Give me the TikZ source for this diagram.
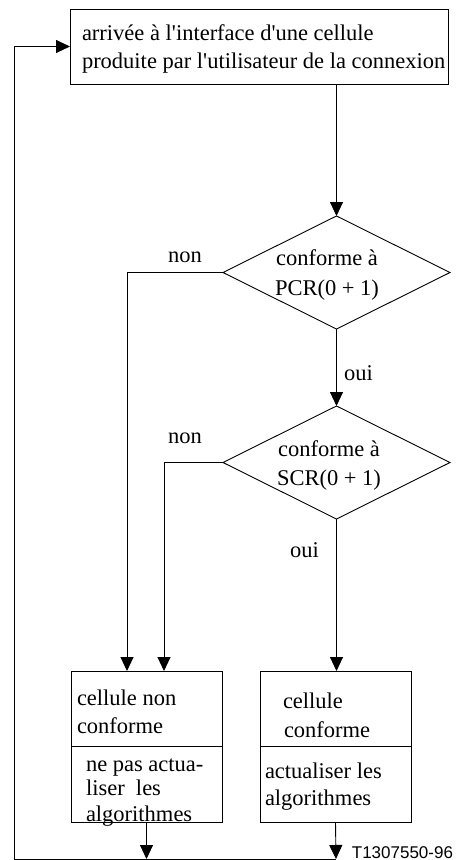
\documentclass[tikz,border=0pt]{standalone}
\usepackage{fontspec}
\setmainfont{Liberation Serif}
\newfontfamily\labelsans{Liberation Sans}
\usetikzlibrary{arrows.meta,shapes.geometric}
\begin{document}
\begin{tikzpicture}[x=1pt,y=-1pt,
  line width=0.9pt,
  every node/.style={inner sep=0pt, outer sep=0pt},
  txt/.style={font=\fontsize{22.5}{28}\selectfont, anchor=base west},
  ctxt/.style={font=\fontsize{22.5}{28}\selectfont, anchor=base},
  boxnode/.style={draw, rectangle},
  decision/.style={draw, diamond, minimum width=227pt, minimum height=113pt},
  arr/.style={-{Triangle[length=14pt,width=13pt]}},
]
\useasboundingbox (0,0) rectangle (456,860);

% top box
\node[boxnode, minimum width=378pt, minimum height=75pt] (top) at (259,46.5) {};
\node[txt] (ta) at (82,40) {arrivée à l\textquotesingle interface d\textquotesingle une cellule};
\node[txt] (tb) at (82,68) {produite par l\textquotesingle utilisateur de la connexion};

% decisions
\node[decision] (d1) at (336.5,272.5) {};
\node[ctxt] (d1a) at (327,265) {conforme à};
\node[ctxt] (d1b) at (327,295) {PCR(0 + 1)};

\node[decision] (d2) at (336.5,462.5) {};
\node[ctxt] (d2a) at (329,456) {conforme à};
\node[ctxt] (d2b) at (329,485) {SCR(0 + 1)};

% bottom boxes
\node[boxnode, minimum width=151pt, minimum height=151pt] (lb) at (146.5,746.5) {};
\draw (lb.west) -- (lb.east);
\node[txt] (lb1) at (77,705) {cellule non};
\node[txt] (lb2) at (77,733) {conforme};
\node[txt] (lb3) at (86,771) {ne pas actua-};
\node[txt] (lb4) at (86,795) {liser\ \ les};
\node[txt] (lb5) at (86,821) {algorithmes};

\node[boxnode, minimum width=151pt, minimum height=151pt] (rb) at (335.5,746.5) {};
\draw (rb.west) -- (rb.east);
\node[txt] (rb1) at (283,708) {cellule};
\node[txt] (rb2) at (284,737) {conforme};
\node[txt] (rb3) at (265,778) {actualiser les};
\node[txt] (rb4) at (265,805) {algorithmes};

% labels
\node[ctxt] (n1) at (185,262) {non};
\node[ctxt] (n2) at (185,443) {non};
\node[txt] (o1) at (344,380) {oui};
\node[txt] (o2) at (290,557) {oui};
\node[font=\labelsans\fontsize{17}{20}\selectfont, anchor=base east] (ref) at (453,858) {T1307550-96};

% connectors
\coordinate (bl) at (14,859);
\coordinate (br) at (336,859);
\coordinate (blm) at (146.5,859);

\draw[arr] (d1.north |- top.south) -- (d1.north);
\draw[arr] (d1.south) -- (d2.north);
\draw[arr] (d1.west) -- (127,272.5) -- (127,671);
\draw[arr] (d2.west) -- (164,462.5) -- (164,671);
\draw[arr] (d2.south) -- (336.5,671);
\draw[arr] (lb.south) -- (blm);
\draw[arr] (rb.south) -- (br);
\draw[arr] (br) -- (bl) -- (14,46.5) -- (top.west);
\end{tikzpicture}
\end{document}
